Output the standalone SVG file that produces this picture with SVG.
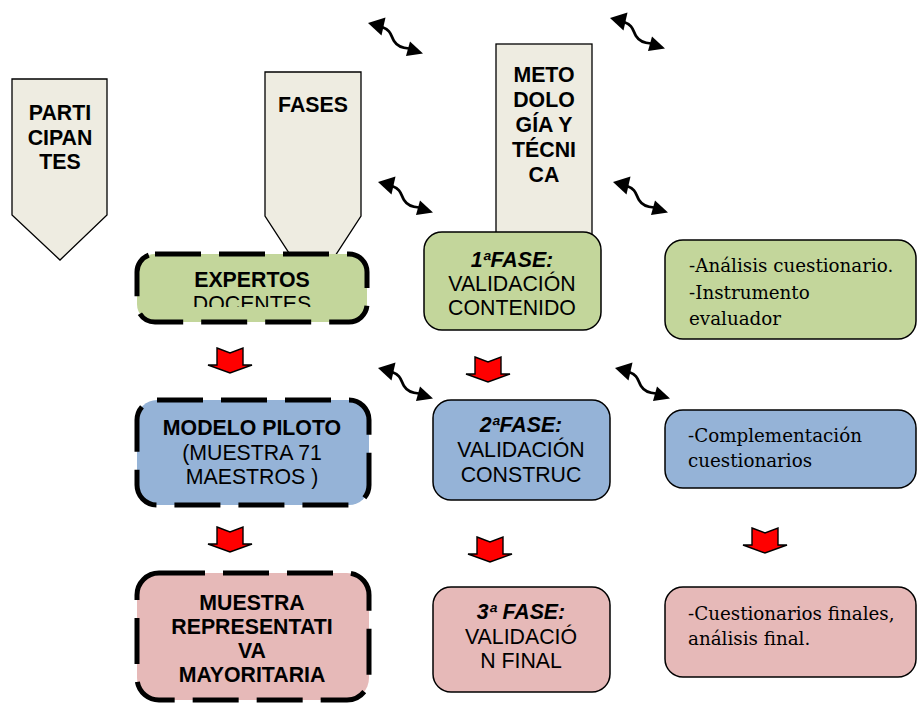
<svg xmlns="http://www.w3.org/2000/svg" width="919" height="704" viewBox="0 0 919 704">
<style>
.pent{fill:#eeece1;stroke:#000;stroke-width:1.3}
.dash{stroke:#000;stroke-width:5;stroke-dasharray:46 18}
.solid{stroke:#000;stroke-width:1.5}
.g{fill:#c3d69b}.bl{fill:#95b3d7}.p{fill:#e6b9b8}
text{font-family:"Liberation Sans",Arial,sans-serif;font-size:21.3px;fill:#000;text-anchor:middle}
.b{font-weight:bold}
.bi{font-weight:bold;font-style:italic}
.s{font-family:"DejaVu Serif","Liberation Serif",serif;font-size:18.3px;text-anchor:start}
</style>
<defs>
<clipPath id="clipExp"><rect x="130" y="250" width="250" height="57"/></clipPath>
<path id="redArrow" d="M-13,0 L0,5 L13,0 L13,17 L22,17 L0,25 L-22,17 L-13,17 Z" fill="#ff0000" stroke="#000" stroke-width="1.4" stroke-linejoin="miter"/>
<g id="wave">
<polygon points="0,0 17.5,-5.5 13.5,12.5" fill="#000"/>
<polygon points="55,30.5 42,18.5 38,33" fill="#000"/>
<path d="M14,4 C23,7 23,13 26,18 S33,25 41,25.5" fill="none" stroke="#000" stroke-width="2.7"/>
</g>
</defs>

<g id="participantes">
<polygon class="pent" points="12,79 107,79 107,215 60,260 12,215"/>
<text class="b" x="60" y="120">PARTI</text>
<text class="b" x="60" y="145">CIPAN</text>
<text class="b" x="60" y="169">TES</text>
</g>
<g id="fases">
<polygon class="pent" points="265,72 361,72 361,216 313,290 265,216"/>
<text class="b" x="313" y="112">FASES</text>
</g>
<g id="metodologia">
<rect class="pent" x="496" y="44" width="96" height="196"/>
<text class="b" x="544" y="82">METO</text>
<text class="b" x="544" y="107">DOLO</text>
<text class="b" x="544" y="132">GÍA Y</text>
<text class="b" x="544" y="157">TÉCNI</text>
<text class="b" x="544" y="182">CA</text>
</g>

<g id="expertos">
<rect class="g" x="137" y="254" width="230" height="68" rx="18"/>
<g clip-path="url(#clipExp)">
<text class="b" x="252" y="287">EXPERTOS</text>
<text x="252" y="311">DOCENTES</text>
</g>
<rect class="dash" fill="none" x="137" y="254" width="230" height="68" rx="18"/>
</g>
<g id="modelo">
<rect class="bl dash" x="137" y="400" width="232" height="105" rx="20"/>
<text class="b" x="252" y="435">MODELO PILOTO</text>
<text x="252" y="460">(MUESTRA 71</text>
<text x="252" y="484">MAESTROS )</text>
</g>
<g id="muestra">
<rect class="p dash" x="137" y="573" width="232" height="127" rx="22"/>
<text class="b" x="252" y="610">MUESTRA</text>
<text class="b" x="252" y="634">REPRESENTATI</text>
<text class="b" x="252" y="658">VA</text>
<text class="b" x="252" y="682">MAYORITARIA</text>
</g>

<g id="fase1">
<rect class="g solid" x="424" y="232" width="177" height="98" rx="18"/>
<text class="bi" x="512" y="267">1ªFASE:</text>
<text x="512" y="291">VALIDACIÓN</text>
<text x="512" y="315">CONTENIDO</text>
</g>
<g id="fase2">
<rect class="bl solid" x="433" y="400" width="177" height="100" rx="18"/>
<text class="bi" x="521" y="432">2ªFASE:</text>
<text x="521" y="457">VALIDACIÓN</text>
<text x="521" y="482">CONSTRUC</text>
</g>
<g id="fase3">
<rect class="p solid" x="433" y="587" width="177" height="105" rx="18"/>
<text class="bi" x="521" y="619">3ª FASE:</text>
<text x="521" y="644">VALIDACIÓ</text>
<text x="521" y="668">N FINAL</text>
</g>

<g id="tecnica1">
<rect class="g solid" x="665" y="240" width="251" height="99" rx="18"/>
<text class="s" x="689" y="272">-Análisis cuestionario.</text>
<text class="s" x="689" y="299">-Instrumento</text>
<text class="s" x="689" y="325">evaluador</text>
</g>
<g id="tecnica2">
<rect class="bl solid" x="665" y="410" width="251" height="78" rx="18"/>
<text class="s" x="688" y="442">-Complementación</text>
<text class="s" x="688" y="467">cuestionarios</text>
</g>
<g id="tecnica3">
<rect class="p solid" x="665" y="587" width="251" height="90" rx="18"/>
<text class="s" x="688" y="620">-Cuestionarios finales,</text>
<text class="s" x="688" y="645">análisis final.</text>
</g>

<g id="connectors">
<use href="#redArrow" x="230" y="348"/>
<use href="#redArrow" x="488" y="357"/>
<use href="#redArrow" x="230" y="527"/>
<use href="#redArrow" x="490" y="537"/>
<use href="#redArrow" x="765" y="528"/>
<use href="#wave" x="368" y="23"/>
<use href="#wave" x="610" y="18"/>
<use href="#wave" x="378" y="182"/>
<use href="#wave" x="613" y="182"/>
<use href="#wave" x="378" y="368"/>
<use href="#wave" x="615" y="368"/>
</g>
</svg>
